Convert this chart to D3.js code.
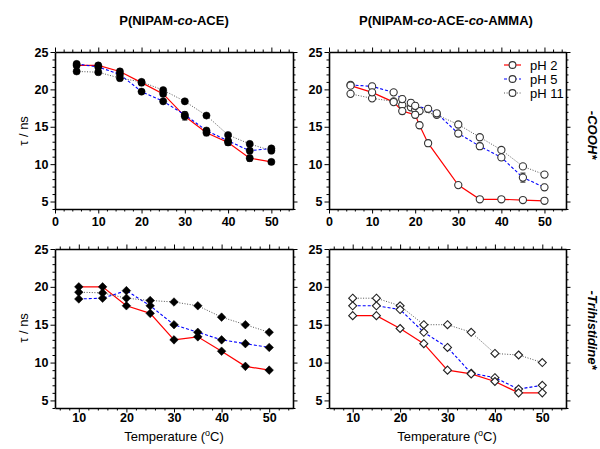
<!DOCTYPE html>
<html>
<head>
<meta charset="utf-8">
<script src="https://cdn.jsdelivr.net/npm/d3@7"></script>
<style>
  html, body { margin: 0; padding: 0; background: #fff; }
  svg { display: block; font-family: "Liberation Sans", Arial, sans-serif; }
</style>
</head>
<body>
<svg id="chart" width="600" height="449"></svg>
<script>
// Fluorescence lifetime tau vs temperature, 2x2 panels

// Panel A: P(NIPAM-co-ACE), -COOH*
const tempA = [5, 10, 15, 20, 25, 30, 35, 40, 45, 50];
const aceCoohPH2 = [23.2, 23.2, 22.4, 20.9, 19.4, 16.4, 14.2, 12.9, 10.8, 10.3];
const aceCoohPH5 = [23.4, 23.0, 22.0, 19.7, 18.4, 16.6, 14.5, 13.1, 11.8, 12.1];
const aceCoohPH11 = [22.4, 22.3, 21.5, 21.0, 19.9, 18.4, 16.5, 13.9, 12.7, 11.8];
const aceCoohErrPH2 = [0.3, 0.3, 0.3, 0.4, 0.3, 0.5, 0.4, 0.4, 0.4, 0.3];
const aceCoohErrPH5 = [0.3, 0.4, 0.3, 0.2, 0.2, 0.4, 0.3, 0.3, 0.3, 0.2];
const aceCoohErrPH11 = [0.2, 0.2, 0.2, 0.2, 0.2, 0.2, 0.2, 0.2, 0.2, 0.2];

// Panel B: P(NIPAM-co-ACE-co-AMMA), -COOH*
const tempBPH2 = [5, 10, 15, 17, 20, 21, 23, 30, 35, 40, 45, 50];
const ammaCoohPH2 = [20.5, 19.6, 18.3, 17.1, 16.6, 15.2, 12.8, 7.2, 5.3, 5.3, 5.2, 5.1];
const ammaCoohErrPH2 = [0.3, 0.4, 0.3, 0.4, 0.4, 0.4, 0.4, 0.3, 0.1, 0.2, 0.1, 0.1];
const tempBPH5 = [5, 10, 15, 17, 19, 20, 23, 25, 30, 35, 40, 45, 50];
const ammaCoohPH5 = [20.6, 20.4, 19.6, 18.7, 18.2, 17.8, 17.4, 16.8, 14.1, 12.4, 10.9, 8.2, 6.9];
const ammaCoohErrPH5 = [0.2, 0.4, 0.3, 0.4, 0.4, 0.4, 0.4, 0.3, 0.4, 0.4, 0.4, 0.6, 0.4];
const tempBPH11 = [5, 10, 15, 17, 19, 20, 21, 25, 30, 35, 40, 45, 50];
const ammaCoohPH11 = [19.4, 18.8, 18.4, 17.9, 17.6, 17.3, 17.1, 16.6, 15.3, 13.6, 11.9, 9.7, 8.6];
const ammaCoohErrPH11 = [0.2, 0.2, 0.2, 0.3, 0.3, 0.3, 0.2, 0.2, 0.2, 0.2, 0.2, 0.2, 0.2];

// Panel C/D: Trihistidine*
const tempC = [10, 15, 20, 25, 30, 35, 40, 45, 50];
const aceTriPH2 = [20.0, 20.0, 17.5, 16.5, 13.0, 13.4, 11.5, 9.5, 9.0];
const aceTriPH5 = [18.4, 18.5, 19.5, 17.5, 15.0, 14.0, 13.0, 12.5, 12.0];
const aceTriPH11 = [19.3, 19.2, 18.5, 18.2, 18.0, 17.5, 16.0, 15.0, 14.0];
const ammaTriPH2 = [16.2, 16.2, 14.5, 12.5, 9.0, 8.5, 7.5, 6.0, 6.0];
const ammaTriPH5 = [17.5, 17.5, 17.0, 14.0, 12.0, 8.6, 8.0, 6.5, 7.0];
const ammaTriPH11 = [18.5, 18.5, 17.5, 15.0, 15.0, 14.0, 11.2, 11.0, 10.0];

const seriesLabels = ["pH 2", "pH 5", "pH 11"];
const yTicks = [5, 10, 15, 20, 25];
const xTicksTop = [0, 10, 20, 30, 40, 50];
const xTicksBottom = [10, 20, 30, 40, 50];

const styles = {
  "pH 2": { color: "#ff0000", dash: null, width: 1.2 },
  "pH 5": { color: "#0000ff", dash: "3,2", width: 1.1 },
  "pH 11": { color: "#555", dash: "1,1.6", width: 1 }
};

const svg = d3.select("#chart");
svg.append("rect").attr("width", 600).attr("height", 449).attr("fill", "#fff");

const zip = (xs, ys, es) => xs.map((x, i) => ({ x, y: ys[i], e: es ? es[i] : 0 }));

// square diamond (rotated square), r = half diagonal
const diamondPath = r => `M0,${-r}L${r},0L0,${r}L${-r},0Z`;

function drawPanel(opt) {
  const x = d3.scaleLinear().domain(opt.xDomain).range([opt.left, opt.right]);
  const y = d3.scaleLinear().domain([4, 25]).range([opt.bottom, opt.top]);
  const g = svg.append("g");

  const minorX = d3.range(opt.xDomain[0] + (opt.xDomain[0] % 2 === 0 ? 0 : 1), opt.xDomain[1] + 0.1, 2)
    .filter(v => !opt.xTicks.includes(v));
  const minorY = d3.range(4, 25.1, 1).filter(v => v % 5 !== 0);

  // minor ticks (all four sides)
  const minors = [
    [d3.axisBottom(x).tickValues(minorX), `translate(0,${opt.bottom})`],
    [d3.axisTop(x).tickValues(minorX), `translate(0,${opt.top})`],
    [d3.axisLeft(y).tickValues(minorY), `translate(${opt.left},0)`],
    [d3.axisRight(y).tickValues(minorY), `translate(${opt.right},0)`]
  ];
  minors.forEach(([ax, tr]) => {
    g.append("g").attr("transform", tr)
      .call(ax.tickSize(2.5).tickSizeOuter(0).tickFormat(""))
      .call(s => s.select(".domain").remove());
  });

  g.append("g")
    .attr("transform", `translate(0,${opt.bottom})`)
    .call(d3.axisBottom(x).tickValues(opt.xTicks).tickSize(4.5).tickSizeOuter(0).tickPadding(opt.xPad));
  g.append("g")
    .attr("transform", `translate(0,${opt.top})`)
    .call(d3.axisTop(x).tickValues(opt.xTicks).tickSize(4.5).tickSizeOuter(0).tickFormat(""));
  g.append("g")
    .attr("transform", `translate(${opt.left},0)`)
    .call(d3.axisLeft(y).tickValues(yTicks).tickSize(4.5).tickSizeOuter(0).tickPadding(2));
  g.append("g")
    .attr("transform", `translate(${opt.right},0)`)
    .call(d3.axisRight(y).tickValues(yTicks).tickSize(4.5).tickSizeOuter(0).tickFormat(""));

  g.selectAll(".domain").attr("stroke", "#000").attr("stroke-width", 1.6);
  g.selectAll(".tick line").attr("stroke", "#000").attr("stroke-width", 1);
  g.selectAll(".tick text")
    .attr("font-family", "'Liberation Sans', Arial, sans-serif")
    .attr("font-size", 12.5)
    .attr("font-weight", "bold")
    .attr("fill", "#000");

  const line = d3.line().x(d => x(d.x)).y(d => y(d.y));

  // lines first, then error bars and markers
  opt.series.slice().reverse().forEach(s => {
    const st = styles[s.label];
    g.append("path")
      .datum(s.points)
      .attr("fill", "none")
      .attr("stroke", st.color)
      .attr("stroke-width", st.width)
      .attr("stroke-dasharray", st.dash)
      .attr("d", line);
  });

  opt.series.forEach(s => {
    const withErr = s.points.filter(d => d.e > 0);
    const eb = g.append("g").attr("stroke", "#111").attr("stroke-width", 1);
    eb.selectAll("line.v").data(withErr).enter().append("line")
      .attr("x1", d => x(d.x)).attr("x2", d => x(d.x))
      .attr("y1", d => y(d.y - d.e)).attr("y2", d => y(d.y + d.e));
    [-1, 1].forEach(sign => {
      eb.selectAll(null).data(withErr).enter().append("line")
        .attr("x1", d => x(d.x) - 2.5).attr("x2", d => x(d.x) + 2.5)
        .attr("y1", d => y(d.y + sign * d.e)).attr("y2", d => y(d.y + sign * d.e));
    });

    const mk = g.append("g");
    if (opt.marker === "circle") {
      mk.selectAll("circle").data(s.points).enter().append("circle")
        .attr("cx", d => x(d.x)).attr("cy", d => y(d.y))
        .attr("r", 3.6)
        .attr("fill", opt.filled ? "#000" : "#fff")
        .attr("stroke", opt.filled ? "#000" : "#333")
        .attr("stroke-width", opt.filled ? 0.5 : 1.1);
    } else {
      mk.selectAll("path").data(s.points).enter().append("path")
        .attr("transform", d => `translate(${x(d.x)},${y(d.y)})`)
        .attr("d", diamondPath(opt.filled ? 4.3 : 4))
        .attr("fill", opt.filled ? "#000" : "#fff")
        .attr("stroke", opt.filled ? "#000" : "#222")
        .attr("stroke-width", opt.filled ? 0.5 : 1.1);
    }
  });

  return { x, y, g };
}

const topBox = { top: 52, bottom: 209, xPad: 3.5 };
const botBox = { top: 249, bottom: 408, xPad: 1 };
const leftBox = { left: 55, right: 293 };
const rightBox = { left: 329, right: 566 };

drawPanel({
  ...topBox, ...leftBox, xDomain: [0, 55], xTicks: xTicksTop, marker: "circle", filled: true,
  series: [
    { label: "pH 11", points: zip(tempA, aceCoohPH11, aceCoohErrPH11) },
    { label: "pH 5", points: zip(tempA, aceCoohPH5, aceCoohErrPH5) },
    { label: "pH 2", points: zip(tempA, aceCoohPH2, aceCoohErrPH2) }
  ]
});

drawPanel({
  ...topBox, ...rightBox, xDomain: [0, 55], xTicks: xTicksTop, marker: "circle", filled: false,
  series: [
    { label: "pH 11", points: zip(tempBPH11, ammaCoohPH11, ammaCoohErrPH11) },
    { label: "pH 5", points: zip(tempBPH5, ammaCoohPH5, ammaCoohErrPH5) },
    { label: "pH 2", points: zip(tempBPH2, ammaCoohPH2, ammaCoohErrPH2) }
  ]
});

drawPanel({
  ...botBox, ...leftBox, xDomain: [5, 55], xTicks: xTicksBottom, marker: "diamond", filled: true,
  series: [
    { label: "pH 11", points: zip(tempC, aceTriPH11) },
    { label: "pH 5", points: zip(tempC, aceTriPH5) },
    { label: "pH 2", points: zip(tempC, aceTriPH2) }
  ]
});

drawPanel({
  ...botBox, ...rightBox, xDomain: [5, 55], xTicks: xTicksBottom, marker: "diamond", filled: false,
  series: [
    { label: "pH 11", points: zip(tempC, ammaTriPH11) },
    { label: "pH 5", points: zip(tempC, ammaTriPH5) },
    { label: "pH 2", points: zip(tempC, ammaTriPH2) }
  ]
});

// Legend (top right panel)
const legend = svg.append("g").attr("font-size", 13);
seriesLabels.forEach((lab, i) => {
  const st = styles[lab];
  const cy = 65 + i * 14;
  legend.append("line")
    .attr("x1", 504).attr("x2", 521).attr("y1", cy).attr("y2", cy)
    .attr("stroke", st.color).attr("stroke-width", st.width)
    .attr("stroke-dasharray", st.dash);
  legend.append("circle")
    .attr("cx", 512.5).attr("cy", cy).attr("r", 3.4)
    .attr("fill", "#fff").attr("stroke", "#333").attr("stroke-width", 1.1);
  legend.append("text")
    .attr("x", 530).attr("y", cy + 4.5)
    .attr("fill", "#000")
    .text(lab);
});

// Titles
function title(cx, parts) {
  const t = svg.append("text")
    .attr("x", cx).attr("y", 25)
    .attr("text-anchor", "middle")
    .attr("font-size", 13)
    .attr("font-weight", "bold");
  parts.forEach(p => t.append("tspan").attr("font-style", p.italic ? "italic" : null).text(p.t));
}
title(174, [{ t: "P(NIPAM-" }, { t: "co", italic: true }, { t: "-ACE)" }]);
title(446, [{ t: "P(NIPAM-" }, { t: "co", italic: true }, { t: "-ACE-" }, { t: "co", italic: true }, { t: "-AMMA)" }]);

// y labels
[131, 328].forEach(cy => {
  svg.append("text")
    .attr("transform", `translate(28,${cy}) rotate(-90)`)
    .attr("text-anchor", "middle")
    .attr("font-size", 13)
    .text("τ / ns");
});

// x labels
[174, 447].forEach(cx => {
  const t = svg.append("text")
    .attr("x", cx).attr("y", 441)
    .attr("text-anchor", "middle")
    .attr("font-size", 13);
  t.append("tspan").text("Temperature (");
  t.append("tspan").attr("dy", -5).attr("font-size", 9).text("o");
  t.append("tspan").attr("dy", 5).text("C)");
});

// right side labels
[{ cy: 135, t: "-COOH*" }, { cy: 330, t: "-Trihistidine*" }].forEach(d => {
  svg.append("text")
    .attr("transform", `translate(588,${d.cy}) rotate(90)`)
    .attr("text-anchor", "middle")
    .attr("font-size", 13)
    .attr("font-weight", "bold")
    .attr("font-style", "italic")
    .text(d.t);
});
</script>
</body>
</html>
